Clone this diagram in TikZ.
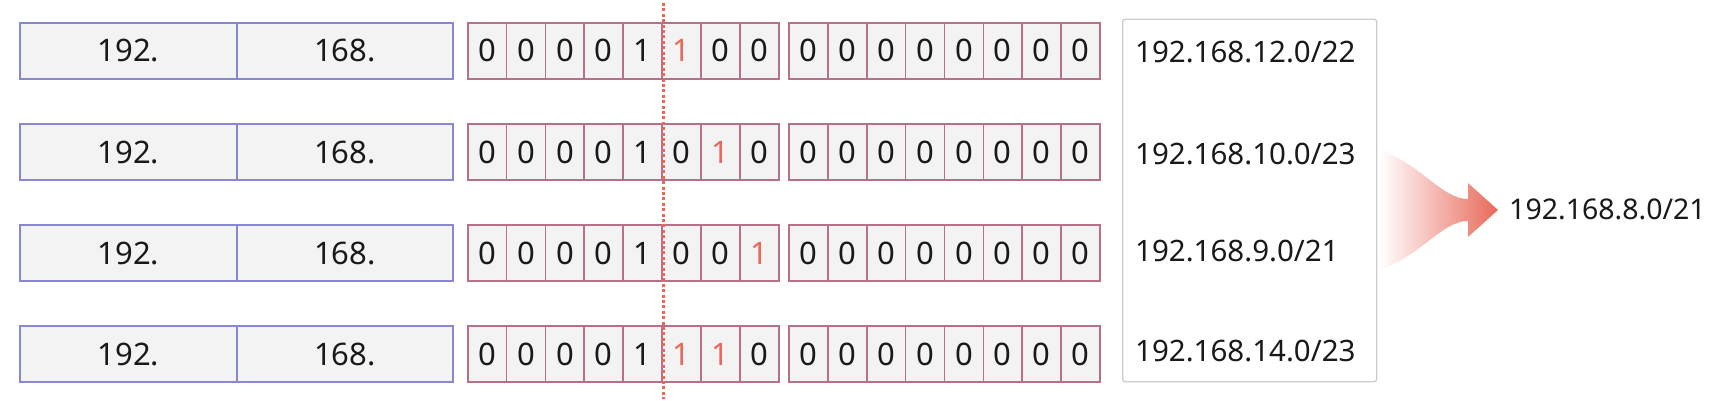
\documentclass[tikz,border=0pt]{standalone}
\usepackage{fontspec}
\setmainfont{Noto Sans}
\usetikzlibrary{calc}
\definecolor{bluebd}{RGB}{136,136,208}
\definecolor{pinkbd}{RGB}{182,112,140}
\definecolor{cellfill}{RGB}{243,243,243}
\definecolor{hired}{RGB}{232,105,90}
\definecolor{txt}{RGB}{25,25,25}
\definecolor{boxbd}{RGB}{205,205,205}
\begin{document}
\begin{tikzpicture}[x=1pt,y=-1pt,
  octet/.style={draw=bluebd, fill=cellfill, line width=1.7pt, minimum width=216.5pt,
    minimum height=56pt, inner sep=0pt, font=\fontsize{31}{36}\selectfont, text=txt},
  bitcell/.style={draw=pinkbd, fill=cellfill, line width=1.7pt, minimum width=38.875pt,
    minimum height=56pt, inner sep=0pt, font=\fontsize{31}{36}\selectfont, text=txt},
  nettxt/.style={anchor=base west, inner sep=0pt, font=\fontsize{29.5}{34}\selectfont, text=txt},
  listbox/.style={draw=boxbd, fill=white, line width=1.3pt, rounded corners=2.5pt,
    minimum width=254pt, minimum height=362.4pt, inner sep=0pt},
  cutline/.style={draw=hired, line width=3pt, dash pattern=on 3pt off 2.4pt}
]
\useasboundingbox (0,0) rectangle (1728,401);

% rows
\foreach \r/\yc/\f/\g/\h/\cf/\cg/\ch in {
    1/50.7/1/0/0/hired/txt/txt,
    2/152/0/1/0/txt/hired/txt,
    3/253/0/0/1/txt/txt/hired,
    4/354/1/1/0/hired/hired/txt}{
  \node[octet] (r\r a) at (128.5,\yc) {192.};
  \node[octet] (r\r b) at (345,\yc) {168.};
  \foreach \i in {1,...,4}{
    \node[bitcell] (r\r c\i) at ({467.7+(\i-0.5)*38.875},\yc) {0};
  }
  \node[bitcell] (r\r c5) at ({467.7+4.5*38.875},\yc) {1};
  \node[bitcell, text=\cf] (r\r c6) at ({467.7+5.5*38.875},\yc) {\f};
  \node[bitcell, text=\cg] (r\r c7) at ({467.7+6.5*38.875},\yc) {\g};
  \node[bitcell, text=\ch] (r\r c8) at ({467.7+7.5*38.875},\yc) {\h};
  \foreach \i in {1,...,8}{
    \node[bitcell] (r\r d\i) at ({789+(\i-0.5)*38.875},\yc) {0};
  }
}

% prefix cut line
\coordinate (cuttop) at (663.3,3);
\coordinate (cutbot) at (663.3,399);
\draw[cutline] (cuttop) -- (cutbot);

% list of networks
\node[listbox] (list) at (1249.7,200.5) {};
\node[nettxt] (n1) at (1135,63) {192.168.12.0/22};
\node[nettxt] (n2) at (1135,164.5) {192.168.10.0/23};
\node[nettxt] (n3) at (1135,261.5) {192.168.9.0/21};
\node[nettxt] (n4) at (1135,361.5) {192.168.14.0/23};

% result
\node[anchor=base west, inner sep=0pt, font=\fontsize{28.5}{34}\selectfont, text=txt] (res) at (1509,219.8) {192.168.8.0/21};

% aggregation arrow
\coordinate (atail) at (1380,210);
\coordinate (atip) at (1498,210);
\shade[left color=white, right color=hired]
  ($(atail)+(0,-60)$) .. controls ($(atail)+(42,-45)$) and ($(atail)+(62,-11)$) ..
  ($(atip)+(-30,-11)$) -- ($(atip)+(-30,-27)$) -- (atip) -- ($(atip)+(-30,27)$) --
  ($(atip)+(-30,11)$) .. controls ($(atail)+(62,11)$) and ($(atail)+(42,45)$) ..
  ($(atail)+(0,60)$) -- cycle;
\end{tikzpicture}
\end{document}
